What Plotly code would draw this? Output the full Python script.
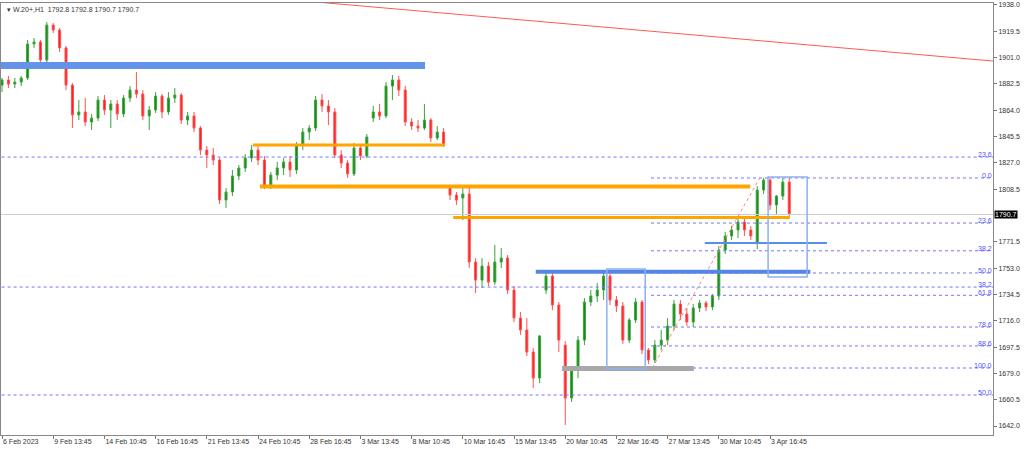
import plotly.graph_objects as go

# H1 candles (coarsened: one candle per ~6 px)
opens = [1881.7, 1885.3, 1882.4, 1883.8, 1886.7, 1910.6, 1912.0, 1899.3, 1923.9, 1920.4,
         1907.8, 1881.7, 1860.7, 1862.8, 1855.7, 1858.5, 1871.2, 1864.2, 1868.4, 1861.4,
         1872.6, 1878.2, 1875.4, 1860.0, 1864.2, 1874.0, 1862.8, 1872.6, 1874.7, 1857.1,
         1860.0, 1851.5, 1836.0, 1832.5, 1829.0, 1800.9, 1806.5, 1817.8, 1823.4, 1830.4,
         1836.0, 1829.0, 1811.4, 1818.5, 1823.4, 1827.6, 1822.0, 1839.6, 1848.7, 1851.5,
         1871.2, 1867.0, 1862.8, 1832.5, 1826.9, 1819.2, 1837.5, 1831.8, 1858.5, 1862.8,
         1860.0, 1881.0, 1885.3, 1878.2, 1855.7, 1852.9, 1851.5, 1857.1, 1844.5, 1848.7,
         1810.0, 1804.4, 1802.3, 1805.1, 1757.3, 1744.6, 1754.5, 1743.2, 1757.3, 1760.1,
         1737.6, 1717.9, 1709.5, 1694.0, 1675.7, 1737.6, 1747.4, 1727.1, 1698.9, 1661.7,
         1681.4, 1702.4, 1729.2, 1733.4, 1737.6, 1747.4, 1730.6, 1726.4, 1702.4, 1716.5,
         1729.2, 1695.4, 1688.4, 1698.9, 1702.4, 1712.3, 1727.8, 1720.7, 1715.1, 1725.0,
         1728.5, 1725.7, 1733.4, 1765.7, 1775.6, 1779.8, 1785.4, 1779.8, 1771.4, 1807.9,
         1814.9, 1797.4, 1803.7, 1813.5]
highs = [1886.7, 1888.1, 1886.7, 1888.1, 1913.4, 1914.8, 1913.4, 1926.0, 1925.3, 1921.8,
         1909.2, 1883.1, 1871.2, 1872.6, 1861.4, 1874.0, 1874.7, 1871.2, 1871.2, 1874.7,
         1881.0, 1890.9, 1878.2, 1867.0, 1876.8, 1875.4, 1876.8, 1879.6, 1876.1, 1862.8,
         1862.8, 1852.9, 1838.9, 1837.5, 1830.4, 1809.3, 1822.0, 1825.5, 1833.2, 1839.6,
         1839.6, 1831.8, 1820.6, 1827.6, 1830.4, 1831.8, 1841.7, 1851.5, 1853.6, 1874.0,
         1875.4, 1871.2, 1865.6, 1836.0, 1829.0, 1841.0, 1840.3, 1847.3, 1867.0, 1868.4,
         1883.8, 1888.8, 1888.1, 1881.0, 1858.5, 1857.1, 1868.4, 1858.5, 1852.9, 1851.5,
         1811.4, 1806.5, 1809.3, 1810.7, 1760.1, 1760.1, 1757.3, 1769.3, 1767.1, 1762.2,
         1740.4, 1722.1, 1717.9, 1696.8, 1706.0, 1751.7, 1750.3, 1729.2, 1701.7, 1684.2,
         1705.3, 1732.0, 1737.6, 1742.5, 1750.3, 1748.9, 1733.4, 1729.2, 1717.9, 1732.0,
         1730.6, 1696.8, 1702.4, 1709.5, 1717.9, 1730.6, 1730.6, 1725.0, 1727.8, 1730.6,
         1729.9, 1734.8, 1768.6, 1778.4, 1782.6, 1788.9, 1788.2, 1782.6, 1810.7, 1816.4,
         1816.4, 1804.4, 1816.4, 1816.4]
lows = [1876.8, 1879.6, 1879.6, 1881.0, 1885.3, 1907.8, 1896.5, 1897.9, 1918.3, 1904.9,
        1878.2, 1851.5, 1857.1, 1852.9, 1850.1, 1856.4, 1860.7, 1851.5, 1857.1, 1859.2,
        1869.8, 1872.6, 1857.1, 1850.1, 1862.1, 1858.5, 1860.7, 1869.1, 1854.3, 1853.6,
        1848.7, 1832.5, 1823.4, 1825.5, 1798.1, 1795.3, 1803.7, 1814.9, 1820.6, 1827.6,
        1825.5, 1808.6, 1808.6, 1814.9, 1818.5, 1817.1, 1819.2, 1836.0, 1843.1, 1849.4,
        1862.8, 1853.6, 1830.4, 1823.4, 1816.4, 1817.8, 1829.0, 1830.4, 1855.7, 1857.1,
        1858.5, 1871.2, 1874.0, 1852.9, 1850.1, 1848.7, 1850.1, 1841.7, 1843.1, 1838.2,
        1800.9, 1797.4, 1786.8, 1753.1, 1735.5, 1739.0, 1740.4, 1741.1, 1753.1, 1734.8,
        1715.1, 1706.0, 1691.2, 1668.7, 1672.2, 1734.8, 1723.5, 1694.0, 1642.7, 1658.9,
        1675.7, 1698.9, 1726.4, 1729.2, 1730.6, 1727.1, 1722.1, 1699.6, 1700.3, 1714.4,
        1692.6, 1685.6, 1686.3, 1695.4, 1698.9, 1709.5, 1716.5, 1712.3, 1711.6, 1722.1,
        1722.8, 1723.5, 1730.6, 1762.9, 1772.8, 1774.2, 1775.6, 1772.8, 1766.4, 1805.1,
        1793.9, 1791.0, 1800.9, 1789.5]
closes = [1885.3, 1882.4, 1883.8, 1886.7, 1910.6, 1912.0, 1899.3, 1923.9, 1920.4, 1907.8,
          1881.7, 1860.7, 1862.8, 1855.7, 1858.5, 1871.2, 1864.2, 1868.4, 1861.4, 1872.6,
          1878.2, 1875.4, 1860.0, 1864.2, 1874.0, 1862.8, 1872.6, 1874.7, 1857.1, 1860.0,
          1851.5, 1836.0, 1832.5, 1829.0, 1800.9, 1806.5, 1817.8, 1823.4, 1830.4, 1836.0,
          1829.0, 1811.4, 1818.5, 1823.4, 1827.6, 1822.0, 1839.6, 1848.7, 1851.5, 1871.2,
          1867.0, 1862.8, 1832.5, 1826.9, 1819.2, 1837.5, 1831.8, 1845.2, 1862.8, 1860.0,
          1881.0, 1885.3, 1878.2, 1855.7, 1852.9, 1851.5, 1857.1, 1844.5, 1848.7, 1839.6,
          1804.4, 1800.9, 1805.1, 1757.3, 1744.6, 1754.5, 1743.2, 1757.3, 1760.1, 1737.6,
          1717.9, 1709.5, 1694.0, 1675.7, 1705.3, 1747.4, 1727.1, 1702.4, 1661.7, 1681.4,
          1702.4, 1729.2, 1733.4, 1737.6, 1747.4, 1730.6, 1726.4, 1702.4, 1716.5, 1729.2,
          1695.4, 1688.4, 1698.9, 1702.4, 1712.3, 1727.8, 1720.7, 1715.1, 1725.0, 1728.5,
          1725.7, 1733.4, 1765.7, 1775.6, 1779.8, 1785.4, 1779.8, 1775.6, 1807.9, 1814.9,
          1797.4, 1803.7, 1813.5, 1790.7]

# time axis labels, one every 8 candles
tick_bars = [0, 8, 16, 24, 32, 40, 48, 56, 64, 72, 80, 88, 96, 104, 112, 120]
tick_text = ["6 Feb 2023", "9 Feb 13:45", "14 Feb 10:45", "16 Feb 16:45", "21 Feb 13:45",
             "24 Feb 10:45", "28 Feb 16:45", "3 Mar 13:45", "8 Mar 10:45", "10 Mar 16:45",
             "15 Mar 13:45", "20 Mar 10:45", "22 Mar 16:45", "27 Mar 13:45", "30 Mar 10:45",
             "3 Apr 16:45"]
price_ticks = [1938.0, 1919.5, 1901.0, 1882.5, 1864.0, 1845.5, 1827.0, 1808.5,
               1771.5, 1753.0, 1734.5, 1716.0, 1697.5, 1679.0, 1660.5, 1642.0]
last_price = 1790.7

# drawn objects: (start bar, end bar, price)
blue_zone = (-1, 66.1, 1895.5)
orange_levels = [(39.2, 69.2, 1839.6), (40.3, 116.9, 1810.4), (70.5, 123.1, 1788.6)]
blue_level = (83.4, 126.3, 1750.5)
blue_thin = (109.8, 128.9, 1770.7)
grey_level = (87.5, 108.1, 1682.5)
boxes = [(94.5, 100.5, 1682.1, 1752.4), (119.7, 125.8, 1746.7, 1817.1)]
trend = [(47.3, 1940.8), (154.84, 1898.6)]

# fibonacci levels
fib_a_labels = ["23.6", "38.2", "50.0"]
fib_a_prices = [1831.1, 1739.7, 1663.8]
fib_b_labels = ["0.0", "23.6", "38.2", "50.0", "61.8", "78.6", "88.6", "100.0"]
fib_b_prices = [1816.4, 1784.7, 1765.2, 1749.6, 1733.9, 1711.6, 1698.3, 1682.8]
fib_b_start = 101.4
fib_b_anchor = [(101.6, 1682.8), (118.4, 1816.4)]

bars = list(range(len(closes)))
font = "Liberation Sans, Arial, sans-serif"

fig = go.Figure(go.Candlestick(
    x=bars, open=opens, high=highs, low=lows, close=closes,
    increasing=dict(line=dict(color="#3aa33a", width=1), fillcolor="#128a12"),
    decreasing=dict(line=dict(color="#ff5050", width=1), fillcolor="#ff1c1c"),
    whiskerwidth=0, hoverinfo="skip", showlegend=False,
))

shapes = []


def hline(x0, x1, y, color, width, dash="solid"):
    shapes.append(dict(type="line", xref="x", yref="y", x0=x0, x1=x1, y0=y, y1=y,
                       line=dict(color=color, width=width, dash=dash), layer="above"))


# bid line
hline(-1, 160, last_price, "#cfcfcf", 1)
for p in fib_a_prices:
    hline(-1, 160, p, "#7474ff", 1, "dot")
for p in fib_b_prices:
    hline(fib_b_start, 160, p, "#7474ff", 1, "dot")
shapes.append(dict(type="line", xref="x", yref="y",
                   x0=fib_b_anchor[0][0], y0=fib_b_anchor[0][1],
                   x1=fib_b_anchor[1][0], y1=fib_b_anchor[1][1],
                   line=dict(color="#ff8080", width=1, dash="dot")))
hline(blue_zone[0], blue_zone[1], blue_zone[2], "#6493ea", 7)
widths = [3, 4, 3]
for (x0, x1, y), w in zip(orange_levels, widths):
    hline(x0, x1, y, "#ffa500", w)
hline(blue_level[0], blue_level[1], blue_level[2], "#5586e6", 4)
hline(blue_thin[0], blue_thin[1], blue_thin[2], "#5b8ee8", 2)
hline(grey_level[0], grey_level[1], grey_level[2], "#a8a8a8", 5)
for x0, x1, y0, y1 in boxes:
    shapes.append(dict(type="rect", xref="x", yref="y", x0=x0, x1=x1, y0=y0, y1=y1,
                       line=dict(color="#8db0f2", width=1.5), layer="above"))
shapes.append(dict(type="line", xref="x", yref="y",
                   x0=trend[0][0], y0=trend[0][1], x1=trend[1][0], y1=trend[1][1],
                   line=dict(color="#ff5a5a", width=1)))

annotations = []
for lab, p in list(zip(fib_a_labels, fib_a_prices)) + list(zip(fib_b_labels, fib_b_prices)):
    annotations.append(dict(xref="paper", yref="y", x=1, y=p, text=lab, showarrow=False,
                            xanchor="right", yanchor="bottom", yshift=-3, xshift=1,
                            font=dict(family=font, size=7, color="#5050ff")))
annotations.append(dict(xref="paper", yref="y", x=1, y=last_price, text="%.1f" % last_price,
                        showarrow=False, xanchor="left", yanchor="middle", xshift=1,
                        bgcolor="#000000", borderpad=0,
                        font=dict(family=font, size=7, color="#ffffff")))
annotations.append(dict(xref="paper", yref="paper", x=0, y=1, xanchor="left", yanchor="top",
                        xshift=4, yshift=-1, showarrow=False,
                        text="▾ W.20+,H1  %.1f %.1f %.1f %.1f" % (1792.8, 1792.8, 1790.7, 1790.7),
                        font=dict(family=font, size=7, color="#333333")))

fig.update_layout(
    width=1024, height=449,
    margin=dict(l=1, r=31, t=3, b=14),
    paper_bgcolor="white", plot_bgcolor="white",
    shapes=shapes, annotations=annotations,
    showlegend=False, boxgap=0.55,
    xaxis=dict(range=[-0.16, 154.84], rangeslider=dict(visible=False),
               tickmode="array", tickvals=tick_bars, ticktext=tick_text,
               ticklabelposition="outside right", ticks="outside", ticklen=3,
               tickcolor="#777777", showgrid=False, zeroline=False,
               showline=True, linecolor="#888888", mirror=True,
               tickfont=dict(family=font, size=7, color="#333333")),
    yaxis=dict(range=[1635.7, 1939.4], side="right", tickmode="array",
               tickvals=price_ticks, tickformat=".1f", ticks="outside", ticklen=3,
               tickcolor="#777777", showgrid=False, zeroline=False,
               showline=True, linecolor="#888888", mirror=True,
               tickfont=dict(family=font, size=7, color="#333333")),
)

fig.write_html("out.html", config={"displayModeBar": False},
               post_script="document.body.style.margin='0';")
